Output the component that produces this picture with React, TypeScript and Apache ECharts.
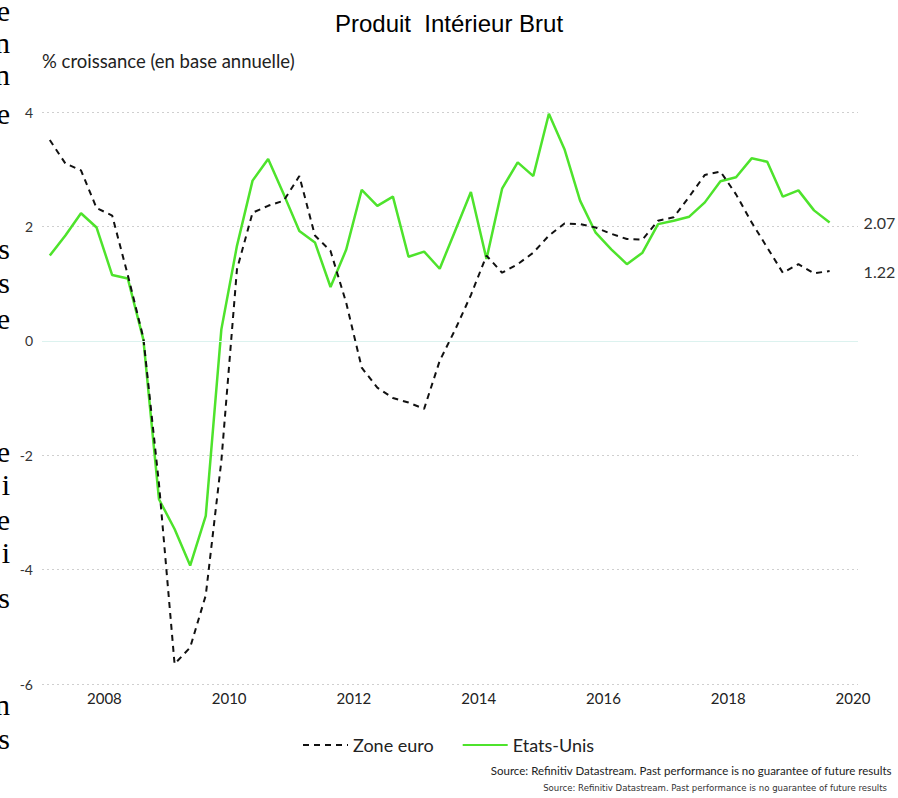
import React, { useEffect, useRef } from "react";
import * as echarts from "echarts";

const quarters = [
  "2007Q1","2007Q2","2007Q3","2007Q4",
  "2008Q1","2008Q2","2008Q3","2008Q4",
  "2009Q1","2009Q2","2009Q3","2009Q4",
  "2010Q1","2010Q2","2010Q3","2010Q4",
  "2011Q1","2011Q2","2011Q3","2011Q4",
  "2012Q1","2012Q2","2012Q3","2012Q4",
  "2013Q1","2013Q2","2013Q3","2013Q4",
  "2014Q1","2014Q2","2014Q3","2014Q4",
  "2015Q1","2015Q2","2015Q3","2015Q4",
  "2016Q1","2016Q2","2016Q3","2016Q4",
  "2017Q1","2017Q2","2017Q3","2017Q4",
  "2018Q1","2018Q2","2018Q3","2018Q4",
  "2019Q1","2019Q2","2019Q3",
];

const zoneEuro = [
  3.51, 3.10, 2.98, 2.32,
  2.19, 1.15, 0.05, -2.5,
  -5.65, -5.36, -4.45, -2.1,
  1.25, 2.24, 2.36, 2.45,
  2.88, 1.84, 1.57, 0.67,
  -0.47, -0.82, -1.0, -1.08,
  -1.19, -0.35, 0.2, 0.8,
  1.49, 1.19, 1.34, 1.54,
  1.84, 2.05, 2.04, 1.98,
  1.87, 1.78, 1.77, 2.1,
  2.16, 2.52, 2.9, 2.96,
  2.56, 2.07, 1.63, 1.19,
  1.34, 1.18, 1.22,
];

const etatsUnis = [
  1.49, 1.84, 2.23, 1.98,
  1.15, 1.09, 0.02, -2.77,
  -3.29, -3.93, -3.06, 0.2,
  1.66, 2.80, 3.18, 2.56,
  1.92, 1.72, 0.94, 1.59,
  2.64, 2.36, 2.52, 1.47,
  1.56, 1.26, 1.93, 2.60,
  1.43, 2.66, 3.12, 2.88,
  3.97, 3.35, 2.45, 1.89,
  1.60, 1.34, 1.54, 2.04,
  2.10, 2.17, 2.42, 2.79,
  2.86, 3.19, 3.13, 2.52,
  2.63, 2.28, 2.07,
];

const yearTicks = [2008, 2010, 2012, 2014, 2016, 2018, 2020];

const strayLetters = [
  { ch: "e", y: 10 }, { ch: "n", y: 42 }, { ch: "n", y: 74 }, { ch: "e", y: 113 },
  { ch: "s", y: 248 }, { ch: "s", y: 282 }, { ch: "e", y: 318 },
  { ch: "e", y: 451 }, { ch: "i", y: 484 }, { ch: "e", y: 519 }, { ch: "i", y: 552 },
  { ch: "s", y: 597 }, { ch: "n", y: 704 }, { ch: "s", y: 738 },
];

const SOURCE = "Source: Refinitiv Datastream. Past performance is no guarantee of future results";

function toYear(q: string): number {
  const y = parseInt(q.slice(0, 4), 10);
  const k = parseInt(q.slice(5), 10);
  return y + (k - 1) * 0.25 + 0.125;
}

export default function App() {
  const ref = useRef<HTMLDivElement>(null);
  useEffect(() => {
    if (!ref.current) return;
    document.body.style.margin = "0";
    document.body.style.overflow = "hidden";
    const chart = echarts.init(ref.current, null, { renderer: "svg" });
    const font = "Lato";
    const green = "#4ee32c";
    const euroData = quarters.map((q, i) => [toYear(q), zoneEuro[i]]);
    const usData = quarters.map((q, i) => [toYear(q), etatsUnis[i]]);
    chart.setOption({
      animation: false,
      backgroundColor: "#ffffff",
      title: {
        text: "Produit  Intérieur Brut",
        left: "center",
        top: 6,
        textStyle: { fontFamily: "Liberation Sans", fontSize: 24, fontWeight: "normal", color: "#000" },
      },
      grid: { left: 42, right: 40, top: 112, bottom: 114 },
      legend: {
        left: 297,
        top: 731,
        itemWidth: 45,
        itemHeight: 14,
        itemGap: 28,
        itemStyle: { opacity: 0 },
        textStyle: { fontFamily: font, fontSize: 18, color: "#222" },
        data: ["Zone euro", "Etats-Unis"],
      },
      xAxis: {
        type: "value",
        min: 2007,
        max: 2020.08,
        splitLine: { show: false },
        axisLine: { show: false },
        axisTick: { show: false },
        axisLabel: {
          customValues: yearTicks,
          formatter: (v: number) => String(Math.round(v)),
          fontFamily: font,
          fontSize: 15,
          color: "#222",
          margin: 6,
        },
      },
      yAxis: {
        type: "value",
        min: -6,
        max: 4,
        interval: 2,
        axisLine: { show: false },
        axisTick: { show: false },
        axisLabel: { fontFamily: font, fontSize: 14, color: "#333", margin: 9 },
        splitLine: {
          lineStyle: {
            type: [2, 3],
            color: ["#cfcfcf", "#cfcfcf", "#cfcfcf", "rgba(0,0,0,0)", "#cfcfcf", "#cfcfcf"],
          },
        },
      },
      series: [
        {
          name: "Zone euro",
          type: "line",
          data: euroData,
          symbol: "none",
          lineStyle: { color: "#111", width: 2, type: [6, 5] },
          itemStyle: { color: "#111" },
          endLabel: {
            show: true,
            distance: 34,
            formatter: (p: any) => Number(p.value[1]).toFixed(2),
            fontFamily: font,
            fontSize: 16,
            color: "#333",
          },
          markLine: {
            silent: true,
            symbol: "none",
            label: { show: false },
            lineStyle: { color: "#dcf2ef", type: "solid", width: 1 },
            data: [{ yAxis: 0 }],
          },
          z: 3,
        },
        {
          name: "Etats-Unis",
          type: "line",
          data: usData,
          symbol: "none",
          lineStyle: { color: green, width: 2.5 },
          itemStyle: { color: green },
          endLabel: {
            show: true,
            distance: 34,
            formatter: (p: any) => Number(p.value[1]).toFixed(2),
            fontFamily: font,
            fontSize: 16,
            color: "#333",
          },
          z: 2,
        },
      ],
      graphic: [
        {
          type: "text",
          left: 42,
          top: 51,
          style: { text: "% croissance (en base annuelle)", fontFamily: font, fontSize: 18.5, fill: "#222" },
        },
        {
          type: "text",
          right: 6,
          top: 764,
          style: { text: SOURCE, fontFamily: font, fontSize: 11.5, fill: "#222" },
        },
        {
          type: "text",
          right: 11,
          top: 782,
          style: { text: SOURCE, fontFamily: "DejaVu Sans Condensed", fontSize: 9.5, fill: "#333" },
        },
        ...strayLetters.map((l) => ({
          type: "text",
          x: 10,
          y: l.y,
          style: {
            text: l.ch,
            fontFamily: "Liberation Serif",
            fontSize: 30,
            fill: "#000",
            align: "right",
            verticalAlign: "middle",
          },
        })),
      ],
    });
    return () => chart.dispose();
  }, []);
  return (
    <div
      ref={ref}
      style={{ position: "absolute", left: 0, top: 0, width: 898, height: 798 }}
    />
  );
}
